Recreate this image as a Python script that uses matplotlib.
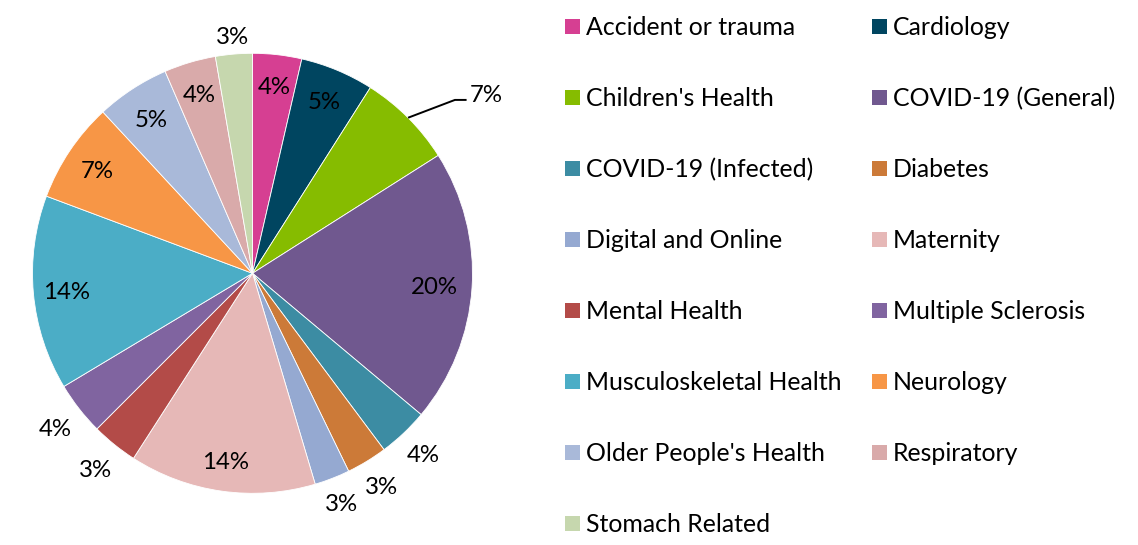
import numpy as np
import matplotlib
matplotlib.use("Agg")
import matplotlib.pyplot as plt
from matplotlib.patches import Rectangle

plt.rcParams['font.family'] = ['Lato', 'DejaVu Sans']

categories = ["Accident or trauma", "Cardiology", "Children's Health", "COVID-19 (General)",
              "COVID-19 (Infected)", "Diabetes", "Digital and Online", "Maternity",
              "Mental Health", "Multiple Sclerosis", "Musculoskeletal Health", "Neurology",
              "Older People's Health", "Respiratory", "Stomach Related"]
shares = [3.6, 5.4, 7.0, 20.1, 3.7, 3.0, 2.6, 13.7, 3.4, 3.9, 14.3, 7.4, 5.4, 3.8, 2.7]
colors = ["#D63F92", "#004560", "#86BC00", "#70588F", "#3C8CA3", "#CC7A38", "#95A9D1",
          "#E6B8B7", "#B34B48", "#8064A0", "#4BADC6", "#F79646", "#A9B9D9", "#D9AAAA",
          "#C6D7AE"]
# label radius (style): inside ~0.85, outside ~1.13, None = leader-line label
label_r = [0.86, 0.85, None, 0.83, 1.127, 1.127, 1.12, 0.86, 1.14, 1.14, 0.85, 0.85, 0.84, 0.855, 1.087]

W, H = 1138, 545
fig = plt.figure(figsize=(W / 100, H / 100), dpi=100)

cx, cy, R = 252.5, 273.3, 220.0
L = 1.2
side = 2 * L * R
ax = fig.add_axes([(cx - side / 2) / W, (H - cy - side / 2) / H, side / W, side / H])

wedges, _ = ax.pie(shares, colors=colors, startangle=90, counterclock=False, radius=1.0,
                   wedgeprops=dict(edgecolor='white', linewidth=0.6))
ax.set_xlim(-L, L)
ax.set_ylim(-L, L)
ax.set_aspect('equal')
ax.axis('off')

total = sum(shares)
fs = 17.3
for w, v, r in zip(wedges, shares, label_r):
    pct = int(np.floor(v / total * 100 + 0.5))
    t = np.deg2rad((w.theta1 + w.theta2) / 2)
    if r is None:
        p0 = np.array([np.cos(t), np.sin(t)])
        elbow = p0 + np.array([0.213, 0.081])
        end = elbow + np.array([0.053, 0.0])
        ax.plot([p0[0], elbow[0], end[0]], [p0[1], elbow[1], end[1]], color='black', lw=1.4,
                solid_capstyle='butt', clip_on=False)
        ax.text(end[0] + 0.015, elbow[1] + 0.03, f"{pct}%", ha='left', va='center_baseline',
                fontsize=fs, color='black')
    else:
        ax.text(r * np.cos(t), r * np.sin(t), f"{pct}%", ha='center', va='center_baseline',
                fontsize=fs, color='black')

# legend (row-wise, two columns)
x_cols = [565, 872]
y0, dy, msz = 26.5, 71, 15
lfs = 17.9
for i, (cat, col) in enumerate(zip(categories, colors)):
    row, c = divmod(i, 2)
    x = x_cols[c]
    yc = y0 + row * dy
    fig.patches.append(Rectangle(((x) / W, (H - yc - msz / 2) / H), msz / W, msz / H,
                                 transform=fig.transFigure, facecolor=col, edgecolor='none'))
    fig.text((x + 21) / W, (H - yc - 8.5) / H, cat, ha='left', va='baseline', fontsize=lfs,
             color='black')

fig.savefig("out.png", dpi=100, facecolor='white')
